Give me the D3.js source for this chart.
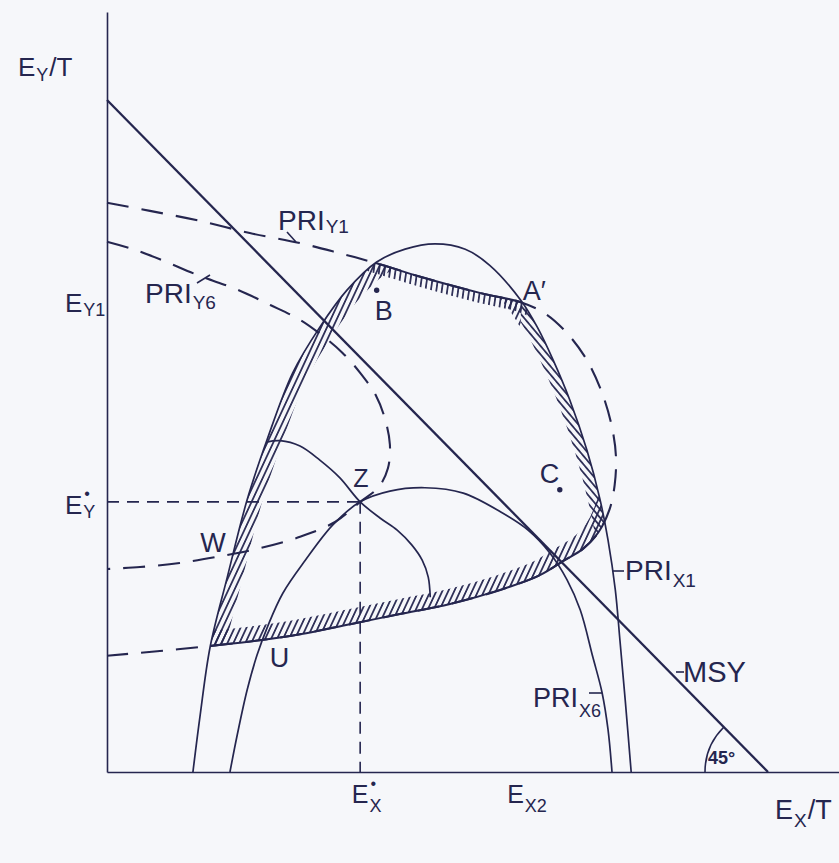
<!DOCTYPE html>
<html>
<head>
<meta charset="utf-8">
<script src="https://cdn.jsdelivr.net/npm/d3@7"></script>
<style>
  html, body { margin: 0; padding: 0; background: #f6f7fa; }
  svg { display: block; }
  text { font-family: "Liberation Sans", Arial, Helvetica, sans-serif; fill: #25264f; }
</style>
</head>
<body>
<svg id="chart" width="839" height="863"></svg>
<script>
// Fishing effort on stock X (horizontal) and stock Y (vertical), per unit time.

// Extent of the two axes (same units as the curves)
const axisExtentX = 110.8;
const axisExtentY = 113.1;

// Maximum sustainable yield frontier: total effort constant (45° line)
const msyLine = [[0, 100], [100, 0]];

// Iso-PRI contour for stock X, level 1 (outer dome)
const priX1 = [
  [13.0, 0], [14.1, 8.5], [15.6, 18.6], [18.2, 29.0], [21.2, 40.5], [24.2, 49.4],
  [28.1, 59.4], [32.2, 66.2], [36.3, 71.7], [40.8, 75.9], [45.1, 77.8], [49.6, 78.6],
  [54.2, 77.8], [57.9, 75.4], [62.6, 70.2], [65.1, 66.2], [67.5, 61.3], [70.0, 55.4],
  [72.6, 47.9], [74.6, 40.5], [75.8, 34.5], [76.9, 27.1], [77.6, 19.6], [78.4, 10.7],
  [79.3, 0]
];

// Iso-PRI contour for stock X, level 6 (inner dome)
const priX6 = [
  [18.6, 0], [19.7, 5.5], [21.2, 12.2], [22.7, 17.4], [24.4, 21.9], [26.6, 26.6],
  [30.0, 31.5], [34.2, 36.8], [38.3, 40.2], [42.8, 41.8], [48.1, 42.3], [53.9, 41.5],
  [59.9, 38.5], [63.7, 36.0], [67.0, 32.6], [69.6, 28.6], [71.6, 24.1], [73.5, 17.1],
  [74.9, 11.8], [75.8, 6.3], [76.4, 0]
];

// Unlabelled contour through Z
const contourZ = [
  [24.1, 49.1], [26.2, 49.3], [29.2, 48.5], [32.2, 46.4], [35.2, 43.8], [38.3, 40.2],
  [41.3, 37.8], [43.9, 36.0], [46.1, 33.8], [47.7, 31.5], [48.6, 29.0], [48.9, 26.0]
];

// Iso-PRI contour for stock Y, level 1
const priY1 = [
  [0, 84.7], [6.5, 83.5], [14.1, 82.0], [21.6, 80.2], [29.2, 78.7], [35.2, 77.2],
  [40.8, 75.7], [47.4, 73.7], [56.4, 71.3], [62.6, 69.9], [66.3, 68.2], [69.6, 65.3],
  [72.6, 61.3], [74.9, 56.4], [76.4, 51.3], [77.0, 46.9], [76.8, 42.7], [76.0, 39.0],
  [74.3, 35.6], [72.0, 33.2], [69.0, 31.4], [65.5, 29.3], [59.5, 27.1], [51.9, 25.0],
  [44.3, 23.5], [36.8, 22.0], [29.2, 20.5], [23.1, 19.6], [16.0, 18.8], [8.0, 18.0],
  [0, 17.3]
];

// Iso-PRI contour for stock Y, level 6
const priY6 = [
  [0, 78.9], [3.9, 77.8], [8.0, 76.3], [14.1, 73.8], [19.4, 71.9], [24.7, 69.5],
  [29.2, 67.3], [32.5, 65.0], [35.6, 62.4], [38.3, 59.4], [40.7, 56.0], [42.1, 52.4],
  [42.8, 48.7], [42.5, 45.2], [41.1, 42.4], [38.3, 40.2], [34.5, 37.2], [29.2, 35.0],
  [23.1, 33.3], [17.1, 32.1], [11.0, 31.1], [5.0, 30.5], [0, 30.2]
];

// Named points
const pointNames = ["A′", "B", "C", "Z", "W", "U"];
const pointX = [62.6, 40.8, 68.5, 38.3, 19.1, 23.4];
const pointY = [69.9, 71.7, 42.0, 40.2, 32.3, 19.6];
const pointDot = [false, true, true, false, false, false];

// Axis tick values and their labels
const xTickValues = [38.3, 61.8];
const xTickLabels = [{ main: "E", sup: "•", sub: "X" }, { main: "E", sub: "X2" }];
const yTickValues = [70.2, 40.2];
const yTickLabels = [{ main: "E", sub: "Y1" }, { main: "E", sup: "•", sub: "Y" }];

// ---------------------------------------------------------------------------
const ink = "#25264f";
const W = 839, H = 863;
const svg = d3.select("#chart");

const x = d3.scaleLinear().domain([0, 100]).range([107, 768]);
const y = d3.scaleLinear().domain([0, 100]).range([772, 100]);

const smooth = d3.line()
  .x(d => x(d[0]))
  .y(d => y(d[1]))
  .curve(d3.curveCatmullRom.alpha(0.5));
const straight = d3.line().x(d => x(d[0])).y(d => y(d[1]));

const defs = svg.append("defs");

// Hatch patterns: forward slant, near-vertical, backward slant
function hatch(id, angle) {
  defs.append("pattern")
    .attr("id", id)
    .attr("patternUnits", "userSpaceOnUse")
    .attr("width", 5.4).attr("height", 10)
    .attr("patternTransform", `rotate(${angle})`)
    .append("line")
    .attr("x1", 2.7).attr("y1", 0).attr("x2", 2.7).attr("y2", 10)
    .attr("stroke", ink).attr("stroke-width", 1.7);
}
hatch("hatchFwd", 25);
hatch("hatchUp", 8);
hatch("hatchBack", -40);

// Interiors of PRI_X1 (closed along the x axis) and PRI_Y1 (closed along the y axis)
defs.append("clipPath").attr("id", "insideX1")
  .append("path").attr("d", smooth(priX1) + "Z");
defs.append("clipPath").attr("id", "insideY1")
  .append("path").attr("d", smooth(priY1) + "Z");

// Split lines for the hatch direction: right of A′, and above mid-height of the region
const ax = x(pointX[0]);
const splitY = y(55);
defs.append("clipPath").attr("id", "leftOfA").append("rect")
  .attr("x", 0).attr("y", 0).attr("width", ax).attr("height", H);
defs.append("clipPath").attr("id", "rightOfA").append("rect")
  .attr("x", ax).attr("y", 0).attr("width", W - ax).attr("height", H);
defs.append("clipPath").attr("id", "upper").append("rect")
  .attr("x", 0).attr("y", 0).attr("width", W).attr("height", splitY);
defs.append("clipPath").attr("id", "lower").append("rect")
  .attr("x", 0).attr("y", splitY).attr("width", W).attr("height", H - splitY);

// Axes
const xAxisScale = d3.scaleLinear().domain([0, axisExtentX]).range([x(0), x(axisExtentX)]);
const yAxisScale = d3.scaleLinear().domain([0, axisExtentY]).range([y(0), y(axisExtentY)]);
svg.append("g")
  .attr("transform", `translate(0,${y(0)})`)
  .call(d3.axisBottom(xAxisScale).tickValues([]).tickSizeOuter(0))
  .call(g => g.select(".domain").attr("stroke", ink).attr("stroke-width", 1.7));
svg.append("g")
  .attr("transform", `translate(${x(0)},0)`)
  .call(d3.axisLeft(yAxisScale).tickValues([]).tickSizeOuter(0))
  .call(g => g.select(".domain").attr("stroke", ink).attr("stroke-width", 1.6));

// Dashed guides from Z to the axes
const zx = pointX[3], zy = pointY[3];
svg.append("path")
  .attr("d", straight([[0, zy], [zx, zy]]) + straight([[zx, zy], [zx, 0]]))
  .attr("fill", "none").attr("stroke", ink).attr("stroke-width", 1.6)
  .attr("stroke-dasharray", "12,8");

// Hatched band inside the region bounded by PRI_X1 and PRI_Y1
const band = svg.append("g").attr("clip-path", "url(#insideX1)")
  .append("g").attr("clip-path", "url(#insideY1)");
function bandStroke(curve, clipId, patternId, width) {
  band.append("g").attr("clip-path", `url(#${clipId})`)
    .append("path")
    .attr("d", smooth(curve))
    .attr("fill", "none")
    .attr("stroke", `url(#${patternId})`)
    .attr("stroke-width", width);
}
bandStroke(priX1, "leftOfA", "hatchFwd", 30);
bandStroke(priX1, "rightOfA", "hatchBack", 24);
bandStroke(priY1, "upper", "hatchUp", 20);
bandStroke(priY1, "lower", "hatchFwd", 30);

// Dashed PRI_Y contours
[priY1, priY6].forEach(c => {
  svg.append("path")
    .attr("d", smooth(c))
    .attr("fill", "none").attr("stroke", ink).attr("stroke-width", 2.1)
    .attr("stroke-dasharray", "22,13");
});

// PRI_Y1 drawn solid where it bounds the region
svg.append("g").attr("clip-path", "url(#insideX1)")
  .append("path")
  .attr("d", smooth(priY1))
  .attr("fill", "none").attr("stroke", ink).attr("stroke-width", 2);

// Solid contours
[priX1, priX6, contourZ].forEach(c => {
  svg.append("path")
    .attr("d", smooth(c))
    .attr("fill", "none").attr("stroke", ink).attr("stroke-width", 1.7);
});

// MSY line
svg.append("path")
  .attr("d", straight(msyLine))
  .attr("fill", "none").attr("stroke", ink).attr("stroke-width", 2.3);

// 45° angle marker
const arcR = 63;
const ap = d3.path();
ap.arc(x(msyLine[1][0]), y(msyLine[1][1]), arcR, Math.PI, Math.PI * 1.25);
svg.append("path").attr("d", ap.toString())
  .attr("fill", "none").attr("stroke", ink).attr("stroke-width", 1.6);
svg.append("text")
  .attr("x", x(msyLine[1][0]) - 60).attr("y", y(msyLine[1][1]) - 8)
  .style("font-size", "18px").style("font-weight", "bold").text("45°");

// Text with optional subscript / superscript / trailing part
function richText(g, px, py, o) {
  const size = o.size || 26;
  const subSize = o.subSize || Math.round(size * 0.66);
  const t = g.append("text").attr("x", px).attr("y", py)
    .style("font-size", size + "px").text(o.main);
  const w = t.node().getComputedTextLength();
  let end = px + w;
  if (o.sup) {
    g.append("text").attr("x", px + w + 2).attr("y", py - size * 0.58)
      .style("font-size", Math.round(size * 0.62) + "px").text(o.sup);
  }
  if (o.sub) {
    const s = g.append("text").attr("x", px + w + 1).attr("y", py + (o.subDy ?? 5))
      .style("font-size", subSize + "px").text(o.sub);
    end = px + w + 1 + s.node().getComputedTextLength();
  }
  if (o.tail) {
    g.append("text").attr("x", end + 1).attr("y", py)
      .style("font-size", size + "px").text(o.tail);
  }
  return w;
}

const labels = svg.append("g");

// Axis titles
richText(labels, 18, 76, { main: "E", sub: "Y", tail: "/T", size: 26, subSize: 18, subDy: 5 });
richText(labels, 775, 819, { main: "E", sub: "X", tail: "/T", size: 27, subSize: 19, subDy: 8 });

// Tick labels on the x axis (main letter centred on the value)
xTickValues.forEach((v, i) => {
  const probe = labels.append("text").style("font-size", "25px").text(xTickLabels[i].main);
  const w = probe.node().getComputedTextLength();
  probe.remove();
  richText(labels, x(v) - w / 2, y(0) + 31, Object.assign({ size: 25, subSize: 18, subDy: 9 }, xTickLabels[i]));
});

// Tick labels on the y axis
yTickValues.forEach((v, i) => {
  richText(labels, 65, y(v) + 12, Object.assign({ size: 26, subSize: 18, subDy: 4 }, yTickLabels[i]));
});

// Named points
const pointOffsets = [[2, -2], [-2, 30], [-20, -7], [-7, -15], [-33, -3], [8, 27]];
const pointSizes = [27, 27, 27, 25, 27, 27];
pointNames.forEach((n, i) => {
  const px = x(pointX[i]), py = y(pointY[i]);
  if (pointDot[i]) {
    labels.append("circle").attr("cx", px).attr("cy", py).attr("r", 2.7).attr("fill", ink);
  }
  labels.append("text")
    .attr("x", px + pointOffsets[i][0]).attr("y", py + pointOffsets[i][1])
    .style("font-size", pointSizes[i] + "px").text(n);
});

// Curve labels with short leaders
function leader(x1, y1, x2, y2) {
  labels.append("line").attr("x1", x1).attr("y1", y1).attr("x2", x2).attr("y2", y2)
    .attr("stroke", ink).attr("stroke-width", 1.6);
}
richText(labels, 278, 230, { main: "PRI", sub: "Y1", size: 28, subSize: 19, subDy: 3 });
leader(287, 232, 296, 242);
richText(labels, 145, 303, { main: "PRI", sub: "Y6", size: 28, subSize: 19, subDy: 6 });
leader(197, 283, 210, 275);
leader(613, 571, 624, 571);
richText(labels, 625, 580, { main: "PRI", sub: "X1", size: 28, subSize: 19, subDy: 7 });
leader(676, 672, 684, 672);
labels.append("text").attr("x", 683).attr("y", 682).style("font-size", "29px").text("MSY");
richText(labels, 533, 707, { main: "PRI", sub: "X6", size: 27, subSize: 18, subDy: 10 });
leader(589, 693, 602, 693);
</script>
</body>
</html>
